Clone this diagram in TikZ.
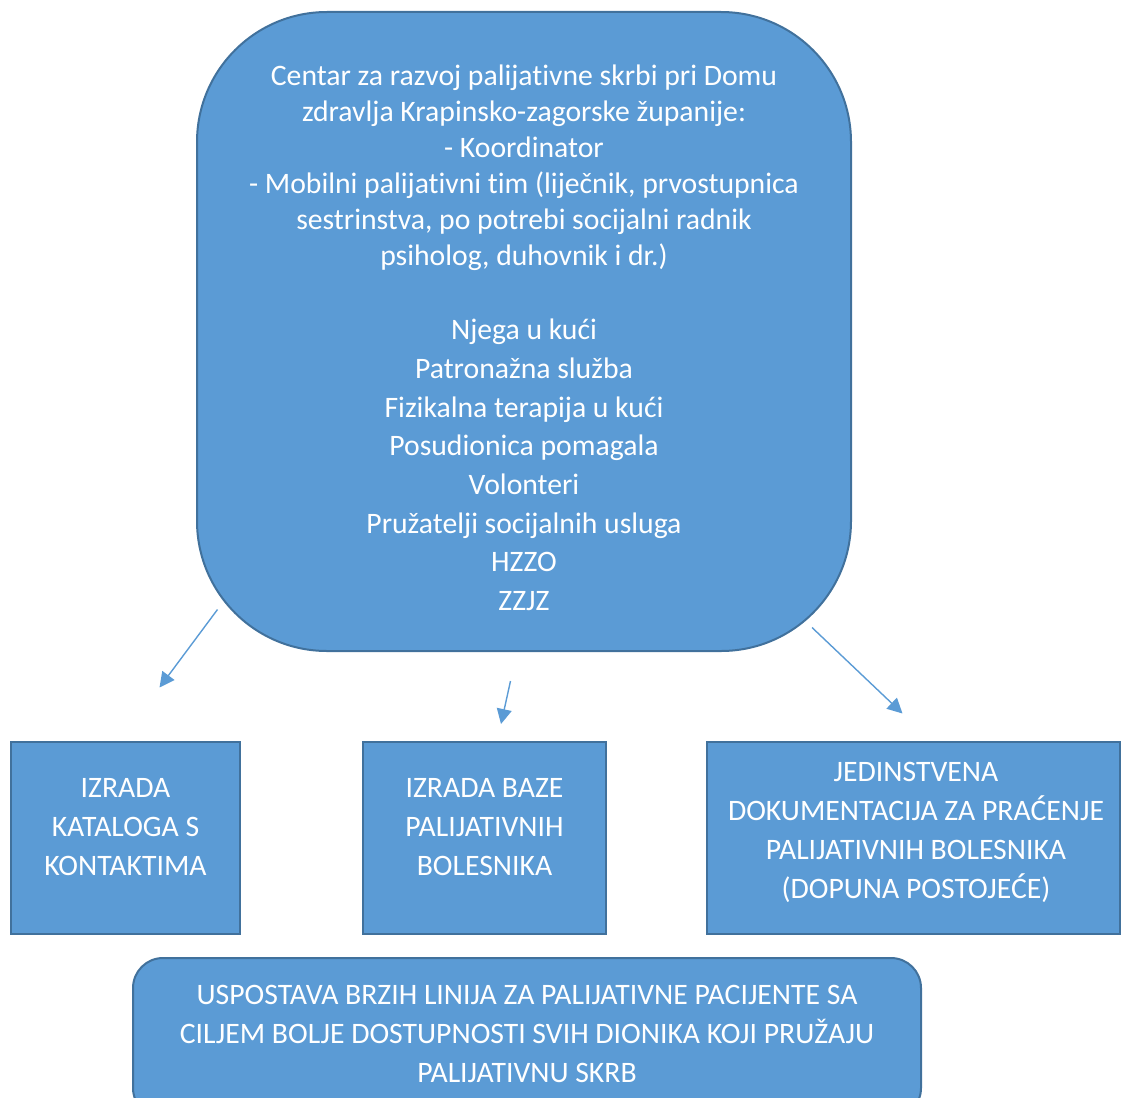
\documentclass[tikz,border=0pt]{standalone}
\usepackage{fontspec}
\setmainfont{Carlito}[Ligatures=NoCommon]
\usetikzlibrary{arrows.meta}
\definecolor{fillb}{HTML}{5B9BD5}
\definecolor{edgeb}{HTML}{41719C}
\tikzset{
  blbox/.style={draw=edgeb, fill=fillb, line width=2pt, inner sep=0pt},
  txt/.style={text=white, align=center, font=\fontsize{29.7}{39}\selectfont},
  conn/.style={draw=fillb, line width=1.4pt, -{Triangle[length=15pt,width=15pt]}}
}
\begin{document}
\begin{tikzpicture}[x=1pt,y=-1pt]
\useasboundingbox (0,0) rectangle (1121,1097);
\clip (0,0) rectangle (1121,1097);
\node[blbox, rounded corners=130pt, minimum width=654pt, minimum height=639pt] (main) at (524,331.5) {};
\node[txt, font=\fontsize{29.7}{36}\selectfont] (maintxt) at (524,338) {Centar za razvoj palijativne skrbi pri Domu\\
zdravlja Krapinsko-zagorske županije:\\
- Koordinator\\
- Mobilni palijativni tim (liječnik, prvostupnica\\
sestrinstva, po potrebi socijalni radnik\\
psiholog, duhovnik i dr.)\\[38pt]
Njega u kući\\[2.7pt]
Patronažna služba\\[2.7pt]
Fizikalna terapija u kući\\[2.7pt]
Posudionica pomagala\\[2.7pt]
Volonteri\\[2.7pt]
Pružatelji socijalnih usluga\\[2.7pt]
HZZO\\[2.7pt]
ZZJZ};
\node[blbox, minimum width=229pt, minimum height=192pt] (b1) at (125.5,838) {};
\node[txt] (b1t) at (125.5,827) {IZRADA\\KATALOGA S\\KONTAKTIMA};
\node[blbox, minimum width=243pt, minimum height=192pt] (b2) at (484.5,838) {};
\node[txt] (b2t) at (484.5,827) {IZRADA BAZE\\PALIJATIVNIH\\BOLESNIKA};
\node[blbox, minimum width=413pt, minimum height=192pt] (b3) at (913.5,838) {};
\node[txt] (b3t) at (916,832.5) {JEDINSTVENA\\DOKUMENTACIJA ZA PRAĆENJE\\PALIJATIVNIH BOLESNIKA\\(DOPUNA POSTOJEĆE)};
\node[blbox, rounded corners=30pt, minimum width=788pt, minimum height=160pt] (b4) at (527,1038) {};
\node[txt] (b4t) at (527,1034) {USPOSTAVA BRZIH LINIJA ZA PALIJATIVNE PACIJENTE SA\\CILJEM BOLJE DOSTUPNOSTI SVIH DIONIKA KOJI PRUŽAJU\\PALIJATIVNU SKRB};
\coordinate (s1) at (217.5,609.5);
\coordinate (e1) at (159.5,687.5);
\coordinate (s2) at (510.5,681);
\coordinate (e2) at (501,724);
\coordinate (s3) at (812,627.5);
\coordinate (e3) at (902.5,713.5);
\draw[conn] (s1) -- (e1);
\draw[conn] (s2) -- (e2);
\draw[conn] (s3) -- (e3);
\end{tikzpicture}
\end{document}
